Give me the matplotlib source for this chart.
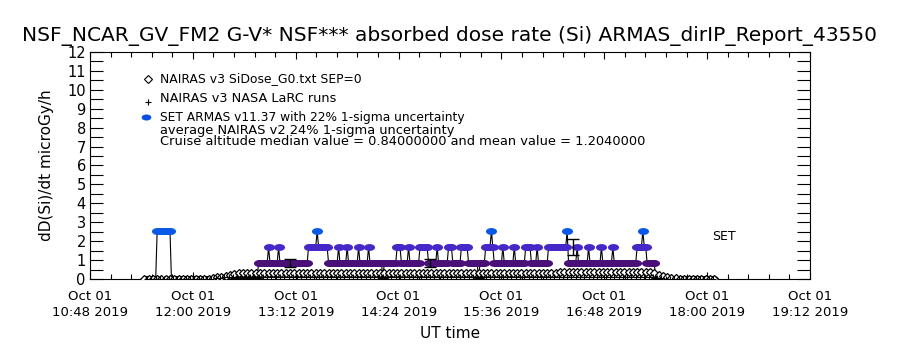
import numpy as np
import matplotlib
matplotlib.use("Agg")
import matplotlib.pyplot as plt
import matplotlib.dates as mdates
from matplotlib.path import Path
from matplotlib.transforms import Affine2D

day = "2019-10-01"

# ARMAS absorbed dose rate, 1-minute samples, stored as runs (start time, level index)
armas_levels = [0.0, 0.84, 1.69, 2.53]
armas_colors = ["black", "#4b1078", "#4628c8", "#0a58e8"]
armas_run_start = ["11:28", "11:35", "11:45", "12:46", "12:53", "12:54", "13:00", "13:01",
                   "13:21", "13:27", "13:28", "13:35", "13:42", "13:43", "13:48", "13:49",
                   "13:56", "13:57", "14:03", "14:04", "14:13", "14:14", "14:23", "14:26",
                   "14:31", "14:32", "14:39", "14:45", "14:51", "14:52", "14:59", "15:02",
                   "15:08", "15:13", "15:20", "15:21", "15:25", "15:29", "15:30", "15:31",
                   "15:37", "15:38", "15:45", "15:46", "15:53", "15:57", "16:01", "16:02",
                   "16:09", "16:22", "16:23", "16:29", "16:30", "16:37", "16:38", "16:46",
                   "16:47", "16:54", "16:55", "17:11", "17:15", "17:16", "17:18", "17:24"]
armas_run_level = [0, 3, 0, 1, 2, 1, 2, 1,
                   2, 3, 2, 1, 2, 1, 2, 1,
                   2, 1, 2, 1, 0, 1, 2, 1,
                   2, 1, 2, 1, 2, 1, 2, 1,
                   2, 1, 0, 1, 2, 3, 2, 1,
                   2, 1, 2, 1, 2, 1, 2, 1,
                   2, 3, 1, 2, 1, 2, 1, 2,
                   1, 2, 1, 2, 3, 2, 1, 0]
armas_end = "18:04"

# NAIRAS v3 SiDose_G0.txt SEP=0, 3-minute samples
sidose_start = "11:26"
sidose_vals = ([0.02] * 16 + [0.04, 0.08, 0.13, 0.18, 0.23, 0.27, 0.30, 0.32]
               + [0.34] * 73 + [0.38] * 22
               + [0.30, 0.22, 0.15, 0.09, 0.05, 0.03] + [0.02] * 9)

# NAIRAS v3 NASA LaRC runs, 3-minute samples
larc_start = "11:28"
larc_vals = ([0.0] * 15 + [0.02, 0.04, 0.06] + [0.08] * 101
             + [0.05, 0.03, 0.01] + [0.0] * 11)

# average NAIRAS v2 24% 1-sigma uncertainty
err_times = ["13:08", "14:46", "16:26"]
err_vals = [0.84, 0.84, 1.69]
err_frac = 0.24

x_ticks = ["10:48", "12:00", "13:12", "14:24", "15:36", "16:48", "18:00", "19:12"]


def clock(s):
    return np.datetime64(f"{day}T{s}")


one_min = np.timedelta64(1, "m")

# expand ARMAS runs into minute samples
starts = [clock(s) for s in armas_run_start] + [clock(armas_end) + one_min]
arm_t, arm_lev = [], []
for i, lev in enumerate(armas_run_level):
    tt = np.arange(starts[i], starts[i + 1], one_min)
    arm_t.append(tt)
    arm_lev.append(np.full(len(tt), lev))
arm_t = np.concatenate(arm_t)
arm_lev = np.concatenate(arm_lev)
arm_v = np.array(armas_levels)[arm_lev]

sid_t = clock(sidose_start) + np.arange(len(sidose_vals)) * 3 * one_min
larc_t = clock(larc_start) + np.arange(len(larc_vals)) * 3 * one_min

ellipse = Path.unit_circle().transformed(Affine2D().scale(1.0, 0.62))

fig = plt.figure(figsize=(9, 3.5), dpi=100)
ax = fig.add_axes([0.1, 0.2029, 0.8, 0.6486])

ax.plot(arm_t, arm_v, color="black", lw=0.8, zorder=2)
for lev, col in enumerate(armas_colors):
    m = arm_lev == lev
    ax.plot(arm_t[m], arm_v[m], ls="none", marker=ellipse, ms=8,
            mfc=col, mec=col, mew=0, zorder=3)

ax.plot(sid_t, sidose_vals, ls="none", marker="D", ms=4.2, mfc="white",
        mec="black", mew=0.9, zorder=4)
ax.plot(larc_t, larc_vals, ls="none", marker="+", ms=4.5, color="black",
        mew=0.8, zorder=4)

err_t = np.array([clock(s) for s in err_times])
ax.errorbar(err_t, err_vals, yerr=np.array(err_vals) * err_frac, fmt="none",
            ecolor="black", elinewidth=1, capsize=4, capthick=1, zorder=5)

# legend drawn by hand, like the original
ax.plot([0.081], [0.881], transform=ax.transAxes, marker="D", ms=3.6,
        mfc="white", mec="black", mew=0.8, clip_on=False)
ax.plot([0.081], [0.779], transform=ax.transAxes, marker="+", ms=5,
        color="black", mew=0.8, clip_on=False)
ax.plot([0.078], [0.712], transform=ax.transAxes, marker=ellipse, ms=7,
        mfc="#0a4ee0", mec="#0a4ee0", mew=0, clip_on=False)
ax.text(0.097, 0.881, "NAIRAS v3 SiDose_G0.txt SEP=0", transform=ax.transAxes,
        fontsize=8.9, va="center")
ax.text(0.097, 0.793, "NAIRAS v3 NASA LaRC runs", transform=ax.transAxes,
        fontsize=9.3, va="center")
ax.text(0.097, 0.712, "SET ARMAS v11.37 with 22% 1-sigma uncertainty",
        transform=ax.transAxes, fontsize=8.8, va="center")
ax.text(0.097, 0.655, "average NAIRAS v2 24% 1-sigma uncertainty",
        transform=ax.transAxes, fontsize=9.4, va="center")
ax.text(0.097, 0.606,
        "Cruise altitude median value = 0.84000000 and mean value = 1.2040000",
        transform=ax.transAxes, fontsize=9.4, va="center")
ax.text(0.881, 0.185, "SET", transform=ax.transAxes, fontsize=9,
        va="center", ha="center")

ax.set_xlim(clock(x_ticks[0]), clock(x_ticks[-1]))
ax.set_ylim(0, 12)

ax.set_xticks([clock(s) for s in x_ticks])
ax.xaxis.set_major_formatter(mdates.DateFormatter("%b %d\n%H:%M %Y"))
tick_nums = mdates.date2num([clock(s) for s in x_ticks])
minor = np.arange(tick_nums[0], tick_nums[-1] + 1e-6, (tick_nums[1] - tick_nums[0]) / 5)
ax.xaxis.set_minor_locator(matplotlib.ticker.FixedLocator(minor))
ax.tick_params(axis="x", which="major", direction="in", length=5, width=0.8,
               top=True, labelsize=9.5, pad=8)
ax.tick_params(axis="x", which="minor", direction="in", length=3.5, width=0.8,
               top=True)

yt = np.arange(0, 12.01, 0.5)
ax.set_yticks(yt)
ax.set_yticklabels([str(int(v)) if v == int(v) else "" for v in yt])
ax.tick_params(axis="y", direction="in", length=9.5, width=0.8, right=True,
               labelsize=10.5, pad=3)
for lab in ax.get_xticklabels():
    lab.set_linespacing(1.3)

for sp in ax.spines.values():
    sp.set_linewidth(0.8)

ax.set_ylabel("dD(Si)/dt microGy/h", fontsize=11)
ax.yaxis.set_label_coords(-0.05, 0.5)
ax.set_xlabel("UT time", fontsize=11)
ax.xaxis.set_label_coords(0.5, -0.205)

fig.text(0.5, 1 - 36 / 350,
         "NSF_NCAR_GV_FM2 G-V* NSF*** absorbed dose rate (Si) ARMAS_dirIP_Report_43550",
         ha="center", va="center", fontsize=14.5)

fig.savefig("out.png", dpi=100)
